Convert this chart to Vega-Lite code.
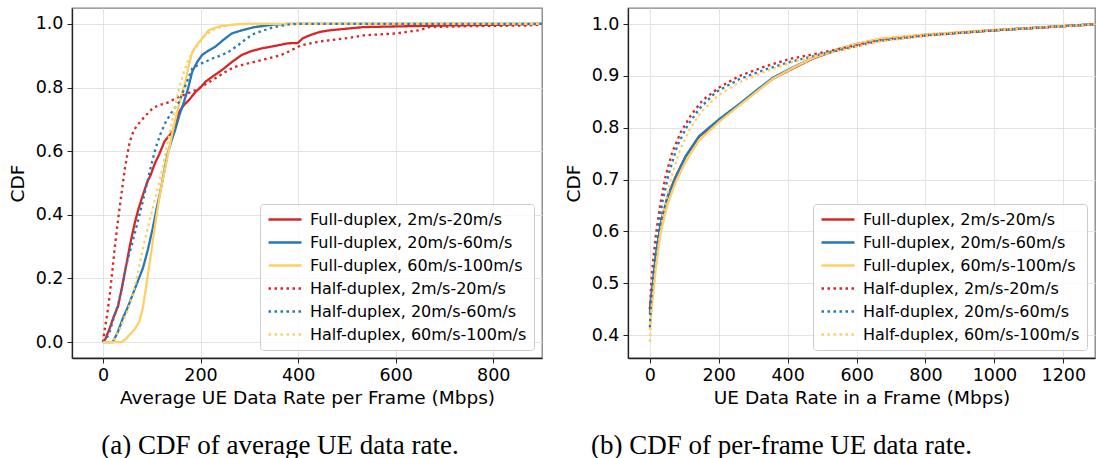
{
  "$schema": "https://vega.github.io/schema/vega-lite/v6.json",
  "padding": {"left": 7, "top": 7, "right": 0, "bottom": 0},
  "spacing": 20,
  "background": "white",
  "config": {
    "font": "DejaVu Sans",
    "view": {"stroke": "#808080", "strokeWidth": 1.3},
    "axis": {
      "labelFont": "DejaVu Sans", "labelFontSize": 17.5, "labelColor": "#000",
      "titleFont": "DejaVu Sans", "titleFontSize": 18.5, "titleFontWeight": "normal", "titleColor": "#000",
      "tickColor": "#222", "tickSize": 5, "labelPadding": 4,
      "domainColor": "#222", "domainWidth": 1.3,
      "gridColor": "#e3e3e3", "gridWidth": 1,
      "labelFlush": false, "labelOverlap": false
    },
    "axisX": {"titlePadding": 4, "labelPadding": 3.5},
    "axisY": {"titlePadding": 8},
    "legend": {
      "orient": "bottom-right", "offset": 8, "title": null,
      "symbolType": "stroke", "symbolSize": 1089, "symbolStrokeWidth": 2.5,
      "labelFont": "DejaVu Sans", "labelFontSize": 16, "labelColor": "#000", "labelOffset": 7, "labelLimit": 0,
      "clipHeight": 17, "rowPadding": 6,
      "fillColor": "rgba(255,255,255,0.8)", "strokeColor": "#cccccc",
      "padding": 7, "cornerRadius": 3
    },
    "title": {"font": "Liberation Serif", "fontSize": 27, "fontWeight": "normal", "color": "#000"}
  },
  "datasets": {
    "a": [
      {"s":"Full-duplex, 2m/s-20m/s","v":0,"c":0},{"s":"Full-duplex, 2m/s-20m/s","v":5,"c":0.01},{"s":"Full-duplex, 2m/s-20m/s","v":14,"c":0.044},{"s":"Full-duplex, 2m/s-20m/s","v":22,"c":0.08},{"s":"Full-duplex, 2m/s-20m/s","v":31,"c":0.113},{"s":"Full-duplex, 2m/s-20m/s","v":40,"c":0.18},{"s":"Full-duplex, 2m/s-20m/s","v":48,"c":0.244},{"s":"Full-duplex, 2m/s-20m/s","v":56,"c":0.31},{"s":"Full-duplex, 2m/s-20m/s","v":65,"c":0.373},{"s":"Full-duplex, 2m/s-20m/s","v":73,"c":0.42},{"s":"Full-duplex, 2m/s-20m/s","v":82,"c":0.463},{"s":"Full-duplex, 2m/s-20m/s","v":90,"c":0.5},{"s":"Full-duplex, 2m/s-20m/s","v":98,"c":0.526},{"s":"Full-duplex, 2m/s-20m/s","v":106,"c":0.56},{"s":"Full-duplex, 2m/s-20m/s","v":115,"c":0.589},{"s":"Full-duplex, 2m/s-20m/s","v":126,"c":0.63},{"s":"Full-duplex, 2m/s-20m/s","v":142,"c":0.661},{"s":"Full-duplex, 2m/s-20m/s","v":150,"c":0.69},{"s":"Full-duplex, 2m/s-20m/s","v":156,"c":0.724},{"s":"Full-duplex, 2m/s-20m/s","v":166,"c":0.745},{"s":"Full-duplex, 2m/s-20m/s","v":176,"c":0.76},{"s":"Full-duplex, 2m/s-20m/s","v":190,"c":0.787},{"s":"Full-duplex, 2m/s-20m/s","v":200,"c":0.8},{"s":"Full-duplex, 2m/s-20m/s","v":210,"c":0.818},{"s":"Full-duplex, 2m/s-20m/s","v":225,"c":0.835},{"s":"Full-duplex, 2m/s-20m/s","v":244,"c":0.855},{"s":"Full-duplex, 2m/s-20m/s","v":264,"c":0.88},{"s":"Full-duplex, 2m/s-20m/s","v":284,"c":0.902},{"s":"Full-duplex, 2m/s-20m/s","v":305,"c":0.915},{"s":"Full-duplex, 2m/s-20m/s","v":325,"c":0.923},{"s":"Full-duplex, 2m/s-20m/s","v":350,"c":0.93},{"s":"Full-duplex, 2m/s-20m/s","v":379,"c":0.939},{"s":"Full-duplex, 2m/s-20m/s","v":399,"c":0.94},{"s":"Full-duplex, 2m/s-20m/s","v":410,"c":0.955},{"s":"Full-duplex, 2m/s-20m/s","v":425,"c":0.965},{"s":"Full-duplex, 2m/s-20m/s","v":445,"c":0.975},{"s":"Full-duplex, 2m/s-20m/s","v":466,"c":0.98},{"s":"Full-duplex, 2m/s-20m/s","v":500,"c":0.985},{"s":"Full-duplex, 2m/s-20m/s","v":534,"c":0.99},{"s":"Full-duplex, 2m/s-20m/s","v":600,"c":0.992},{"s":"Full-duplex, 2m/s-20m/s","v":700,"c":0.995},{"s":"Full-duplex, 2m/s-20m/s","v":800,"c":0.997},{"s":"Full-duplex, 2m/s-20m/s","v":870,"c":0.999},{"s":"Full-duplex, 2m/s-20m/s","v":900,"c":1.0},
      {"s":"Full-duplex, 20m/s-60m/s","v":0,"c":0},{"s":"Full-duplex, 20m/s-60m/s","v":20,"c":0},{"s":"Full-duplex, 20m/s-60m/s","v":30,"c":0.03},{"s":"Full-duplex, 20m/s-60m/s","v":41,"c":0.076},{"s":"Full-duplex, 20m/s-60m/s","v":51,"c":0.11},{"s":"Full-duplex, 20m/s-60m/s","v":61,"c":0.15},{"s":"Full-duplex, 20m/s-60m/s","v":71,"c":0.19},{"s":"Full-duplex, 20m/s-60m/s","v":82,"c":0.233},{"s":"Full-duplex, 20m/s-60m/s","v":92,"c":0.29},{"s":"Full-duplex, 20m/s-60m/s","v":102,"c":0.358},{"s":"Full-duplex, 20m/s-60m/s","v":110,"c":0.42},{"s":"Full-duplex, 20m/s-60m/s","v":119,"c":0.484},{"s":"Full-duplex, 20m/s-60m/s","v":126,"c":0.54},{"s":"Full-duplex, 20m/s-60m/s","v":132,"c":0.589},{"s":"Full-duplex, 20m/s-60m/s","v":140,"c":0.63},{"s":"Full-duplex, 20m/s-60m/s","v":149,"c":0.672},{"s":"Full-duplex, 20m/s-60m/s","v":157,"c":0.715},{"s":"Full-duplex, 20m/s-60m/s","v":166,"c":0.755},{"s":"Full-duplex, 20m/s-60m/s","v":175,"c":0.8},{"s":"Full-duplex, 20m/s-60m/s","v":183,"c":0.85},{"s":"Full-duplex, 20m/s-60m/s","v":193,"c":0.88},{"s":"Full-duplex, 20m/s-60m/s","v":203,"c":0.902},{"s":"Full-duplex, 20m/s-60m/s","v":215,"c":0.915},{"s":"Full-duplex, 20m/s-60m/s","v":230,"c":0.928},{"s":"Full-duplex, 20m/s-60m/s","v":247,"c":0.95},{"s":"Full-duplex, 20m/s-60m/s","v":264,"c":0.97},{"s":"Full-duplex, 20m/s-60m/s","v":285,"c":0.98},{"s":"Full-duplex, 20m/s-60m/s","v":311,"c":0.99},{"s":"Full-duplex, 20m/s-60m/s","v":351,"c":0.998},{"s":"Full-duplex, 20m/s-60m/s","v":380,"c":1.0},{"s":"Full-duplex, 20m/s-60m/s","v":900,"c":1.0},
      {"s":"Full-duplex, 60m/s-100m/s","v":0,"c":0},{"s":"Full-duplex, 60m/s-100m/s","v":38,"c":0},{"s":"Full-duplex, 60m/s-100m/s","v":47,"c":0.01},{"s":"Full-duplex, 60m/s-100m/s","v":55,"c":0.024},{"s":"Full-duplex, 60m/s-100m/s","v":65,"c":0.04},{"s":"Full-duplex, 60m/s-100m/s","v":75,"c":0.066},{"s":"Full-duplex, 60m/s-100m/s","v":82,"c":0.11},{"s":"Full-duplex, 60m/s-100m/s","v":88,"c":0.17},{"s":"Full-duplex, 60m/s-100m/s","v":95,"c":0.24},{"s":"Full-duplex, 60m/s-100m/s","v":102,"c":0.317},{"s":"Full-duplex, 60m/s-100m/s","v":110,"c":0.4},{"s":"Full-duplex, 60m/s-100m/s","v":119,"c":0.484},{"s":"Full-duplex, 60m/s-100m/s","v":128,"c":0.55},{"s":"Full-duplex, 60m/s-100m/s","v":136,"c":0.61},{"s":"Full-duplex, 60m/s-100m/s","v":144,"c":0.67},{"s":"Full-duplex, 60m/s-100m/s","v":152,"c":0.724},{"s":"Full-duplex, 60m/s-100m/s","v":160,"c":0.77},{"s":"Full-duplex, 60m/s-100m/s","v":169,"c":0.818},{"s":"Full-duplex, 60m/s-100m/s","v":176,"c":0.87},{"s":"Full-duplex, 60m/s-100m/s","v":183,"c":0.912},{"s":"Full-duplex, 60m/s-100m/s","v":193,"c":0.935},{"s":"Full-duplex, 60m/s-100m/s","v":203,"c":0.954},{"s":"Full-duplex, 60m/s-100m/s","v":217,"c":0.98},{"s":"Full-duplex, 60m/s-100m/s","v":230,"c":0.988},{"s":"Full-duplex, 60m/s-100m/s","v":244,"c":0.994},{"s":"Full-duplex, 60m/s-100m/s","v":277,"c":0.999},{"s":"Full-duplex, 60m/s-100m/s","v":300,"c":1.0},{"s":"Full-duplex, 60m/s-100m/s","v":900,"c":1.0},
      {"s":"Half-duplex, 2m/s-20m/s","v":0,"c":0},{"s":"Half-duplex, 2m/s-20m/s","v":4,"c":0.044},{"s":"Half-duplex, 2m/s-20m/s","v":9,"c":0.09},{"s":"Half-duplex, 2m/s-20m/s","v":14,"c":0.15},{"s":"Half-duplex, 2m/s-20m/s","v":19,"c":0.22},{"s":"Half-duplex, 2m/s-20m/s","v":24,"c":0.295},{"s":"Half-duplex, 2m/s-20m/s","v":29,"c":0.36},{"s":"Half-duplex, 2m/s-20m/s","v":34,"c":0.42},{"s":"Half-duplex, 2m/s-20m/s","v":40,"c":0.49},{"s":"Half-duplex, 2m/s-20m/s","v":45,"c":0.546},{"s":"Half-duplex, 2m/s-20m/s","v":50,"c":0.59},{"s":"Half-duplex, 2m/s-20m/s","v":55,"c":0.63},{"s":"Half-duplex, 2m/s-20m/s","v":62,"c":0.66},{"s":"Half-duplex, 2m/s-20m/s","v":68,"c":0.677},{"s":"Half-duplex, 2m/s-20m/s","v":85,"c":0.708},{"s":"Half-duplex, 2m/s-20m/s","v":102,"c":0.735},{"s":"Half-duplex, 2m/s-20m/s","v":115,"c":0.745},{"s":"Half-duplex, 2m/s-20m/s","v":129,"c":0.75},{"s":"Half-duplex, 2m/s-20m/s","v":156,"c":0.771},{"s":"Half-duplex, 2m/s-20m/s","v":190,"c":0.792},{"s":"Half-duplex, 2m/s-20m/s","v":210,"c":0.81},{"s":"Half-duplex, 2m/s-20m/s","v":230,"c":0.829},{"s":"Half-duplex, 2m/s-20m/s","v":250,"c":0.848},{"s":"Half-duplex, 2m/s-20m/s","v":270,"c":0.865},{"s":"Half-duplex, 2m/s-20m/s","v":290,"c":0.873},{"s":"Half-duplex, 2m/s-20m/s","v":311,"c":0.881},{"s":"Half-duplex, 2m/s-20m/s","v":340,"c":0.892},{"s":"Half-duplex, 2m/s-20m/s","v":365,"c":0.902},{"s":"Half-duplex, 2m/s-20m/s","v":379,"c":0.912},{"s":"Half-duplex, 2m/s-20m/s","v":405,"c":0.932},{"s":"Half-duplex, 2m/s-20m/s","v":445,"c":0.945},{"s":"Half-duplex, 2m/s-20m/s","v":466,"c":0.949},{"s":"Half-duplex, 2m/s-20m/s","v":500,"c":0.955},{"s":"Half-duplex, 2m/s-20m/s","v":534,"c":0.964},{"s":"Half-duplex, 2m/s-20m/s","v":600,"c":0.97},{"s":"Half-duplex, 2m/s-20m/s","v":648,"c":0.98},{"s":"Half-duplex, 2m/s-20m/s","v":668,"c":0.99},{"s":"Half-duplex, 2m/s-20m/s","v":750,"c":0.993},{"s":"Half-duplex, 2m/s-20m/s","v":870,"c":0.995},{"s":"Half-duplex, 2m/s-20m/s","v":900,"c":0.998},
      {"s":"Half-duplex, 20m/s-60m/s","v":0,"c":0},{"s":"Half-duplex, 20m/s-60m/s","v":7,"c":0.01},{"s":"Half-duplex, 20m/s-60m/s","v":14,"c":0.034},{"s":"Half-duplex, 20m/s-60m/s","v":22,"c":0.075},{"s":"Half-duplex, 20m/s-60m/s","v":31,"c":0.118},{"s":"Half-duplex, 20m/s-60m/s","v":40,"c":0.18},{"s":"Half-duplex, 20m/s-60m/s","v":48,"c":0.244},{"s":"Half-duplex, 20m/s-60m/s","v":58,"c":0.3},{"s":"Half-duplex, 20m/s-60m/s","v":68,"c":0.358},{"s":"Half-duplex, 20m/s-60m/s","v":78,"c":0.42},{"s":"Half-duplex, 20m/s-60m/s","v":88,"c":0.484},{"s":"Half-duplex, 20m/s-60m/s","v":98,"c":0.55},{"s":"Half-duplex, 20m/s-60m/s","v":108,"c":0.61},{"s":"Half-duplex, 20m/s-60m/s","v":118,"c":0.655},{"s":"Half-duplex, 20m/s-60m/s","v":129,"c":0.693},{"s":"Half-duplex, 20m/s-60m/s","v":142,"c":0.725},{"s":"Half-duplex, 20m/s-60m/s","v":156,"c":0.755},{"s":"Half-duplex, 20m/s-60m/s","v":170,"c":0.81},{"s":"Half-duplex, 20m/s-60m/s","v":183,"c":0.86},{"s":"Half-duplex, 20m/s-60m/s","v":196,"c":0.872},{"s":"Half-duplex, 20m/s-60m/s","v":210,"c":0.881},{"s":"Half-duplex, 20m/s-60m/s","v":227,"c":0.893},{"s":"Half-duplex, 20m/s-60m/s","v":244,"c":0.902},{"s":"Half-duplex, 20m/s-60m/s","v":260,"c":0.915},{"s":"Half-duplex, 20m/s-60m/s","v":277,"c":0.933},{"s":"Half-duplex, 20m/s-60m/s","v":295,"c":0.955},{"s":"Half-duplex, 20m/s-60m/s","v":311,"c":0.97},{"s":"Half-duplex, 20m/s-60m/s","v":330,"c":0.98},{"s":"Half-duplex, 20m/s-60m/s","v":351,"c":0.99},{"s":"Half-duplex, 20m/s-60m/s","v":379,"c":0.998},{"s":"Half-duplex, 20m/s-60m/s","v":400,"c":1.0},{"s":"Half-duplex, 20m/s-60m/s","v":900,"c":1.0},
      {"s":"Half-duplex, 60m/s-100m/s","v":0,"c":0},{"s":"Half-duplex, 60m/s-100m/s","v":20,"c":0},{"s":"Half-duplex, 60m/s-100m/s","v":24,"c":0.013},{"s":"Half-duplex, 60m/s-100m/s","v":33,"c":0.035},{"s":"Half-duplex, 60m/s-100m/s","v":41,"c":0.066},{"s":"Half-duplex, 60m/s-100m/s","v":51,"c":0.1},{"s":"Half-duplex, 60m/s-100m/s","v":61,"c":0.15},{"s":"Half-duplex, 60m/s-100m/s","v":72,"c":0.22},{"s":"Half-duplex, 60m/s-100m/s","v":82,"c":0.295},{"s":"Half-duplex, 60m/s-100m/s","v":92,"c":0.36},{"s":"Half-duplex, 60m/s-100m/s","v":102,"c":0.42},{"s":"Half-duplex, 60m/s-100m/s","v":112,"c":0.48},{"s":"Half-duplex, 60m/s-100m/s","v":122,"c":0.546},{"s":"Half-duplex, 60m/s-100m/s","v":130,"c":0.61},{"s":"Half-duplex, 60m/s-100m/s","v":139,"c":0.672},{"s":"Half-duplex, 60m/s-100m/s","v":147,"c":0.735},{"s":"Half-duplex, 60m/s-100m/s","v":156,"c":0.797},{"s":"Half-duplex, 60m/s-100m/s","v":166,"c":0.85},{"s":"Half-duplex, 60m/s-100m/s","v":176,"c":0.891},{"s":"Half-duplex, 60m/s-100m/s","v":190,"c":0.925},{"s":"Half-duplex, 60m/s-100m/s","v":203,"c":0.954},{"s":"Half-duplex, 60m/s-100m/s","v":217,"c":0.972},{"s":"Half-duplex, 60m/s-100m/s","v":230,"c":0.985},{"s":"Half-duplex, 60m/s-100m/s","v":257,"c":0.996},{"s":"Half-duplex, 60m/s-100m/s","v":290,"c":1.0},{"s":"Half-duplex, 60m/s-100m/s","v":900,"c":1.0}
    ],
    "b": [
      {"s":"Full-duplex, 2m/s-20m/s","v":0,"c":0.45},{"s":"Full-duplex, 2m/s-20m/s","v":3,"c":0.47},{"s":"Full-duplex, 2m/s-20m/s","v":7,"c":0.49},{"s":"Full-duplex, 2m/s-20m/s","v":17,"c":0.553},{"s":"Full-duplex, 2m/s-20m/s","v":31,"c":0.615},{"s":"Full-duplex, 2m/s-20m/s","v":51,"c":0.667},{"s":"Full-duplex, 2m/s-20m/s","v":75,"c":0.706},{"s":"Full-duplex, 2m/s-20m/s","v":104,"c":0.745},{"s":"Full-duplex, 2m/s-20m/s","v":143,"c":0.783},{"s":"Full-duplex, 2m/s-20m/s","v":202,"c":0.815},{"s":"Full-duplex, 2m/s-20m/s","v":260,"c":0.845},{"s":"Full-duplex, 2m/s-20m/s","v":309,"c":0.87},{"s":"Full-duplex, 2m/s-20m/s","v":358,"c":0.895},{"s":"Full-duplex, 2m/s-20m/s","v":417,"c":0.915},{"s":"Full-duplex, 2m/s-20m/s","v":475,"c":0.934},{"s":"Full-duplex, 2m/s-20m/s","v":543,"c":0.95},{"s":"Full-duplex, 2m/s-20m/s","v":602,"c":0.961},{"s":"Full-duplex, 2m/s-20m/s","v":670,"c":0.971},{"s":"Full-duplex, 2m/s-20m/s","v":800,"c":0.979},{"s":"Full-duplex, 2m/s-20m/s","v":1000,"c":0.988},{"s":"Full-duplex, 2m/s-20m/s","v":1200,"c":0.996},{"s":"Full-duplex, 2m/s-20m/s","v":1300,"c":1.0},
      {"s":"Full-duplex, 20m/s-60m/s","v":0,"c":0.44},{"s":"Full-duplex, 20m/s-60m/s","v":3,"c":0.465},{"s":"Full-duplex, 20m/s-60m/s","v":7,"c":0.485},{"s":"Full-duplex, 20m/s-60m/s","v":17,"c":0.55},{"s":"Full-duplex, 20m/s-60m/s","v":31,"c":0.613},{"s":"Full-duplex, 20m/s-60m/s","v":51,"c":0.665},{"s":"Full-duplex, 20m/s-60m/s","v":75,"c":0.705},{"s":"Full-duplex, 20m/s-60m/s","v":104,"c":0.745},{"s":"Full-duplex, 20m/s-60m/s","v":143,"c":0.784},{"s":"Full-duplex, 20m/s-60m/s","v":202,"c":0.817},{"s":"Full-duplex, 20m/s-60m/s","v":260,"c":0.846},{"s":"Full-duplex, 20m/s-60m/s","v":309,"c":0.872},{"s":"Full-duplex, 20m/s-60m/s","v":358,"c":0.897},{"s":"Full-duplex, 20m/s-60m/s","v":417,"c":0.917},{"s":"Full-duplex, 20m/s-60m/s","v":475,"c":0.935},{"s":"Full-duplex, 20m/s-60m/s","v":543,"c":0.951},{"s":"Full-duplex, 20m/s-60m/s","v":602,"c":0.962},{"s":"Full-duplex, 20m/s-60m/s","v":670,"c":0.971},{"s":"Full-duplex, 20m/s-60m/s","v":800,"c":0.979},{"s":"Full-duplex, 20m/s-60m/s","v":1000,"c":0.988},{"s":"Full-duplex, 20m/s-60m/s","v":1200,"c":0.996},{"s":"Full-duplex, 20m/s-60m/s","v":1300,"c":1.0},
      {"s":"Full-duplex, 60m/s-100m/s","v":0,"c":0.41},{"s":"Full-duplex, 60m/s-100m/s","v":3,"c":0.44},{"s":"Full-duplex, 60m/s-100m/s","v":7,"c":0.465},{"s":"Full-duplex, 60m/s-100m/s","v":17,"c":0.53},{"s":"Full-duplex, 60m/s-100m/s","v":31,"c":0.597},{"s":"Full-duplex, 60m/s-100m/s","v":51,"c":0.652},{"s":"Full-duplex, 60m/s-100m/s","v":75,"c":0.695},{"s":"Full-duplex, 60m/s-100m/s","v":104,"c":0.735},{"s":"Full-duplex, 60m/s-100m/s","v":143,"c":0.776},{"s":"Full-duplex, 60m/s-100m/s","v":202,"c":0.812},{"s":"Full-duplex, 60m/s-100m/s","v":260,"c":0.843},{"s":"Full-duplex, 60m/s-100m/s","v":309,"c":0.869},{"s":"Full-duplex, 60m/s-100m/s","v":358,"c":0.895},{"s":"Full-duplex, 60m/s-100m/s","v":417,"c":0.916},{"s":"Full-duplex, 60m/s-100m/s","v":475,"c":0.935},{"s":"Full-duplex, 60m/s-100m/s","v":543,"c":0.951},{"s":"Full-duplex, 60m/s-100m/s","v":602,"c":0.962},{"s":"Full-duplex, 60m/s-100m/s","v":670,"c":0.972},{"s":"Full-duplex, 60m/s-100m/s","v":800,"c":0.98},{"s":"Full-duplex, 60m/s-100m/s","v":1000,"c":0.989},{"s":"Full-duplex, 60m/s-100m/s","v":1200,"c":0.996},{"s":"Full-duplex, 60m/s-100m/s","v":1300,"c":1.0},
      {"s":"Half-duplex, 2m/s-20m/s","v":0,"c":0.45},{"s":"Half-duplex, 2m/s-20m/s","v":3,"c":0.49},{"s":"Half-duplex, 2m/s-20m/s","v":7,"c":0.528},{"s":"Half-duplex, 2m/s-20m/s","v":17,"c":0.592},{"s":"Half-duplex, 2m/s-20m/s","v":31,"c":0.656},{"s":"Half-duplex, 2m/s-20m/s","v":46,"c":0.708},{"s":"Half-duplex, 2m/s-20m/s","v":65,"c":0.753},{"s":"Half-duplex, 2m/s-20m/s","v":90,"c":0.792},{"s":"Half-duplex, 2m/s-20m/s","v":119,"c":0.824},{"s":"Half-duplex, 2m/s-20m/s","v":153,"c":0.853},{"s":"Half-duplex, 2m/s-20m/s","v":202,"c":0.878},{"s":"Half-duplex, 2m/s-20m/s","v":260,"c":0.9},{"s":"Half-duplex, 2m/s-20m/s","v":329,"c":0.917},{"s":"Half-duplex, 2m/s-20m/s","v":407,"c":0.933},{"s":"Half-duplex, 2m/s-20m/s","v":485,"c":0.943},{"s":"Half-duplex, 2m/s-20m/s","v":573,"c":0.955},{"s":"Half-duplex, 2m/s-20m/s","v":661,"c":0.968},{"s":"Half-duplex, 2m/s-20m/s","v":800,"c":0.978},{"s":"Half-duplex, 2m/s-20m/s","v":1000,"c":0.988},{"s":"Half-duplex, 2m/s-20m/s","v":1200,"c":0.996},{"s":"Half-duplex, 2m/s-20m/s","v":1300,"c":1.0},
      {"s":"Half-duplex, 20m/s-60m/s","v":0,"c":0.415},{"s":"Half-duplex, 20m/s-60m/s","v":3,"c":0.46},{"s":"Half-duplex, 20m/s-60m/s","v":9,"c":0.515},{"s":"Half-duplex, 20m/s-60m/s","v":22,"c":0.592},{"s":"Half-duplex, 20m/s-60m/s","v":36,"c":0.656},{"s":"Half-duplex, 20m/s-60m/s","v":56,"c":0.714},{"s":"Half-duplex, 20m/s-60m/s","v":80,"c":0.766},{"s":"Half-duplex, 20m/s-60m/s","v":109,"c":0.804},{"s":"Half-duplex, 20m/s-60m/s","v":144,"c":0.837},{"s":"Half-duplex, 20m/s-60m/s","v":192,"c":0.869},{"s":"Half-duplex, 20m/s-60m/s","v":260,"c":0.894},{"s":"Half-duplex, 20m/s-60m/s","v":329,"c":0.911},{"s":"Half-duplex, 20m/s-60m/s","v":407,"c":0.927},{"s":"Half-duplex, 20m/s-60m/s","v":485,"c":0.94},{"s":"Half-duplex, 20m/s-60m/s","v":573,"c":0.953},{"s":"Half-duplex, 20m/s-60m/s","v":661,"c":0.967},{"s":"Half-duplex, 20m/s-60m/s","v":800,"c":0.978},{"s":"Half-duplex, 20m/s-60m/s","v":1000,"c":0.988},{"s":"Half-duplex, 20m/s-60m/s","v":1200,"c":0.996},{"s":"Half-duplex, 20m/s-60m/s","v":1300,"c":1.0},
      {"s":"Half-duplex, 60m/s-100m/s","v":0,"c":0.387},{"s":"Half-duplex, 60m/s-100m/s","v":4,"c":0.44},{"s":"Half-duplex, 60m/s-100m/s","v":12,"c":0.496},{"s":"Half-duplex, 60m/s-100m/s","v":26,"c":0.579},{"s":"Half-duplex, 60m/s-100m/s","v":41,"c":0.643},{"s":"Half-duplex, 60m/s-100m/s","v":61,"c":0.701},{"s":"Half-duplex, 60m/s-100m/s","v":85,"c":0.753},{"s":"Half-duplex, 60m/s-100m/s","v":114,"c":0.795},{"s":"Half-duplex, 60m/s-100m/s","v":148,"c":0.83},{"s":"Half-duplex, 60m/s-100m/s","v":197,"c":0.862},{"s":"Half-duplex, 60m/s-100m/s","v":260,"c":0.888},{"s":"Half-duplex, 60m/s-100m/s","v":329,"c":0.907},{"s":"Half-duplex, 60m/s-100m/s","v":407,"c":0.925},{"s":"Half-duplex, 60m/s-100m/s","v":485,"c":0.939},{"s":"Half-duplex, 60m/s-100m/s","v":573,"c":0.952},{"s":"Half-duplex, 60m/s-100m/s","v":661,"c":0.966},{"s":"Half-duplex, 60m/s-100m/s","v":800,"c":0.978},{"s":"Half-duplex, 60m/s-100m/s","v":1000,"c":0.988},{"s":"Half-duplex, 60m/s-100m/s","v":1200,"c":0.996},{"s":"Half-duplex, 60m/s-100m/s","v":1300,"c":1.0}
    ]
  },
  "resolve": {
    "scale": {"color": "independent", "strokeDash": "independent", "x": "independent", "y": "independent"},
    "legend": {"color": "independent", "strokeDash": "independent"}
  },
  "hconcat": [
    {
      "width": 470, "height": 350,
      "data": {"name": "a"},
      "title": {"text": "(a) CDF of average UE data rate.", "orient": "bottom", "anchor": "middle", "offset": 26, "dx": -27},
      "mark": {"type": "line", "clip": true, "strokeWidth": 2.3},
      "encoding": {
        "x": {"field": "v", "type": "quantitative", "scale": {"domain": [-63.5, 900], "nice": false, "zero": false},
              "axis": {"title": "Average UE Data Rate per Frame (Mbps)", "values": [0, 200, 400, 600, 800]}},
        "y": {"field": "c", "type": "quantitative", "scale": {"domain": [-0.05, 1.05], "nice": false, "zero": false},
              "axis": {"title": "CDF", "values": [0, 0.2, 0.4, 0.6, 0.8, 1.0], "format": ".1f"}},
        "color": {"field": "s", "type": "nominal",
                  "scale": {"domain": ["Full-duplex, 2m/s-20m/s", "Full-duplex, 20m/s-60m/s", "Full-duplex, 60m/s-100m/s", "Half-duplex, 2m/s-20m/s", "Half-duplex, 20m/s-60m/s", "Half-duplex, 60m/s-100m/s"],
                            "range": ["#d62728", "#2878b5", "#fcd066", "#d62728", "#2878b5", "#fcd066"]}},
        "strokeDash": {"field": "s", "type": "nominal",
                  "scale": {"domain": ["Full-duplex, 2m/s-20m/s", "Full-duplex, 20m/s-60m/s", "Full-duplex, 60m/s-100m/s", "Half-duplex, 2m/s-20m/s", "Half-duplex, 20m/s-60m/s", "Half-duplex, 60m/s-100m/s"],
                            "range": [[1, 0], [1, 0], [1, 0], [2.5, 3.5], [2.5, 3.5], [2.5, 3.5]]}}
      }
    },
    {
      "width": 467, "height": 350,
      "data": {"name": "b"},
      "title": {"text": "(b) CDF of per-frame UE data rate.", "orient": "bottom", "anchor": "middle", "offset": 26, "dx": -80},
      "mark": {"type": "line", "clip": true, "strokeWidth": 2.3},
      "encoding": {
        "x": {"field": "v", "type": "quantitative", "scale": {"domain": [-63.5, 1292], "nice": false, "zero": false},
              "axis": {"title": "UE Data Rate in a Frame (Mbps)", "values": [0, 200, 400, 600, 800, 1000, 1200], "format": "d"}},
        "y": {"field": "c", "type": "quantitative", "scale": {"domain": [0.356, 1.031], "nice": false, "zero": false},
              "axis": {"title": "CDF", "values": [0.4, 0.5, 0.6, 0.7, 0.8, 0.9, 1.0], "format": ".1f"}},
        "color": {"field": "s", "type": "nominal",
                  "scale": {"domain": ["Full-duplex, 2m/s-20m/s", "Full-duplex, 20m/s-60m/s", "Full-duplex, 60m/s-100m/s", "Half-duplex, 2m/s-20m/s", "Half-duplex, 20m/s-60m/s", "Half-duplex, 60m/s-100m/s"],
                            "range": ["#d62728", "#2878b5", "#fcd066", "#d62728", "#2878b5", "#fcd066"]}},
        "strokeDash": {"field": "s", "type": "nominal",
                  "scale": {"domain": ["Full-duplex, 2m/s-20m/s", "Full-duplex, 20m/s-60m/s", "Full-duplex, 60m/s-100m/s", "Half-duplex, 2m/s-20m/s", "Half-duplex, 20m/s-60m/s", "Half-duplex, 60m/s-100m/s"],
                            "range": [[1, 0], [1, 0], [1, 0], [2.5, 3.5], [2.5, 3.5], [2.5, 3.5]]}}
      }
    }
  ]
}
